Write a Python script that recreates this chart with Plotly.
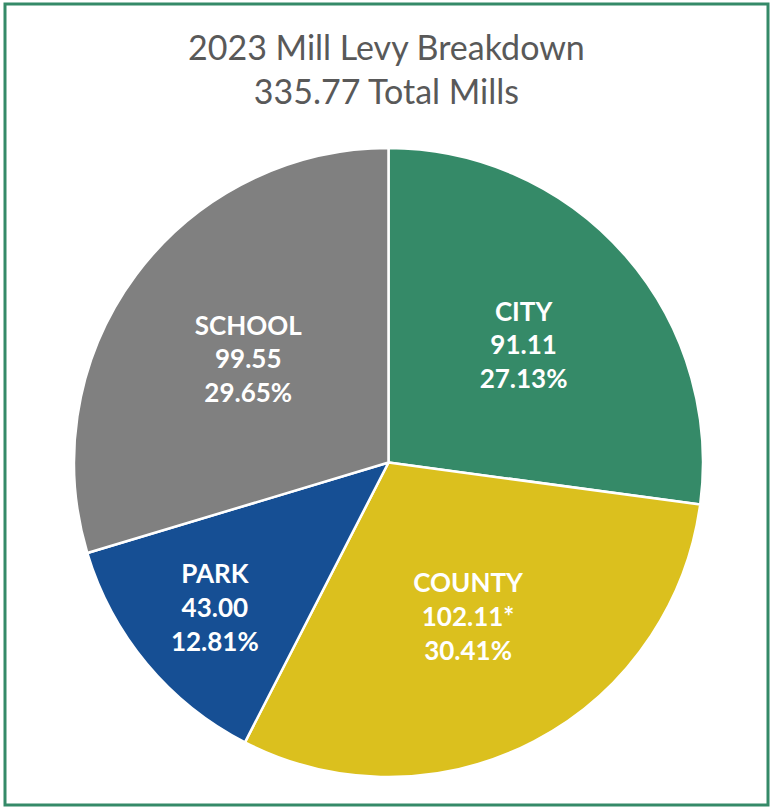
import plotly.graph_objects as go

categories = ["CITY", "COUNTY", "PARK", "SCHOOL"]
mills = [91.11, 102.11, 43.00, 99.55]
mill_labels = ["91.11", "102.11*", "43.00", "99.55"]
colors = ["#358A68", "#DBC01E", "#164F94", "#808080"]
title_lines = ["2023 Mill Levy Breakdown", "335.77 Total Mills"]

W, H = 772, 809

fig = go.Figure(go.Pie(
    labels=categories,
    values=mills,
    customdata=mill_labels,
    sort=False,
    direction="clockwise",
    rotation=0,
    marker=dict(colors=colors, line=dict(color="white", width=2.5)),
    texttemplate="<b>%{label}<br>%{customdata}<br>%{percent:.2%}</b>",
    textposition="inside",
    insidetextorientation="horizontal",
    textfont=dict(family="Lato", size=26, color="white"),
    hoverinfo="label+value+percent",
    showlegend=False,
    domain=dict(x=[74 / W, 703 / W], y=[1 - 777 / H, 1 - 148 / H]),
))

fig.update_layout(
    width=W, height=H,
    margin=dict(l=0, r=0, t=0, b=0),
    paper_bgcolor="white",
    uniformtext=dict(minsize=26, mode="show"),
    annotations=[dict(
        text="<br>".join(title_lines),
        x=0.5, y=1 - 24 / H, xref="paper", yref="paper",
        xanchor="center", yanchor="top", showarrow=False,
        font=dict(family="Lato", size=34, color="#595959"),
    )],
    shapes=[dict(
        type="rect", xref="paper", yref="paper",
        x0=5 / W, x1=1 - 4 / W, y0=4 / H, y1=1 - 4 / H,
        line=dict(color="#358A68", width=3),
    )],
)

fig.write_html("out.html")
